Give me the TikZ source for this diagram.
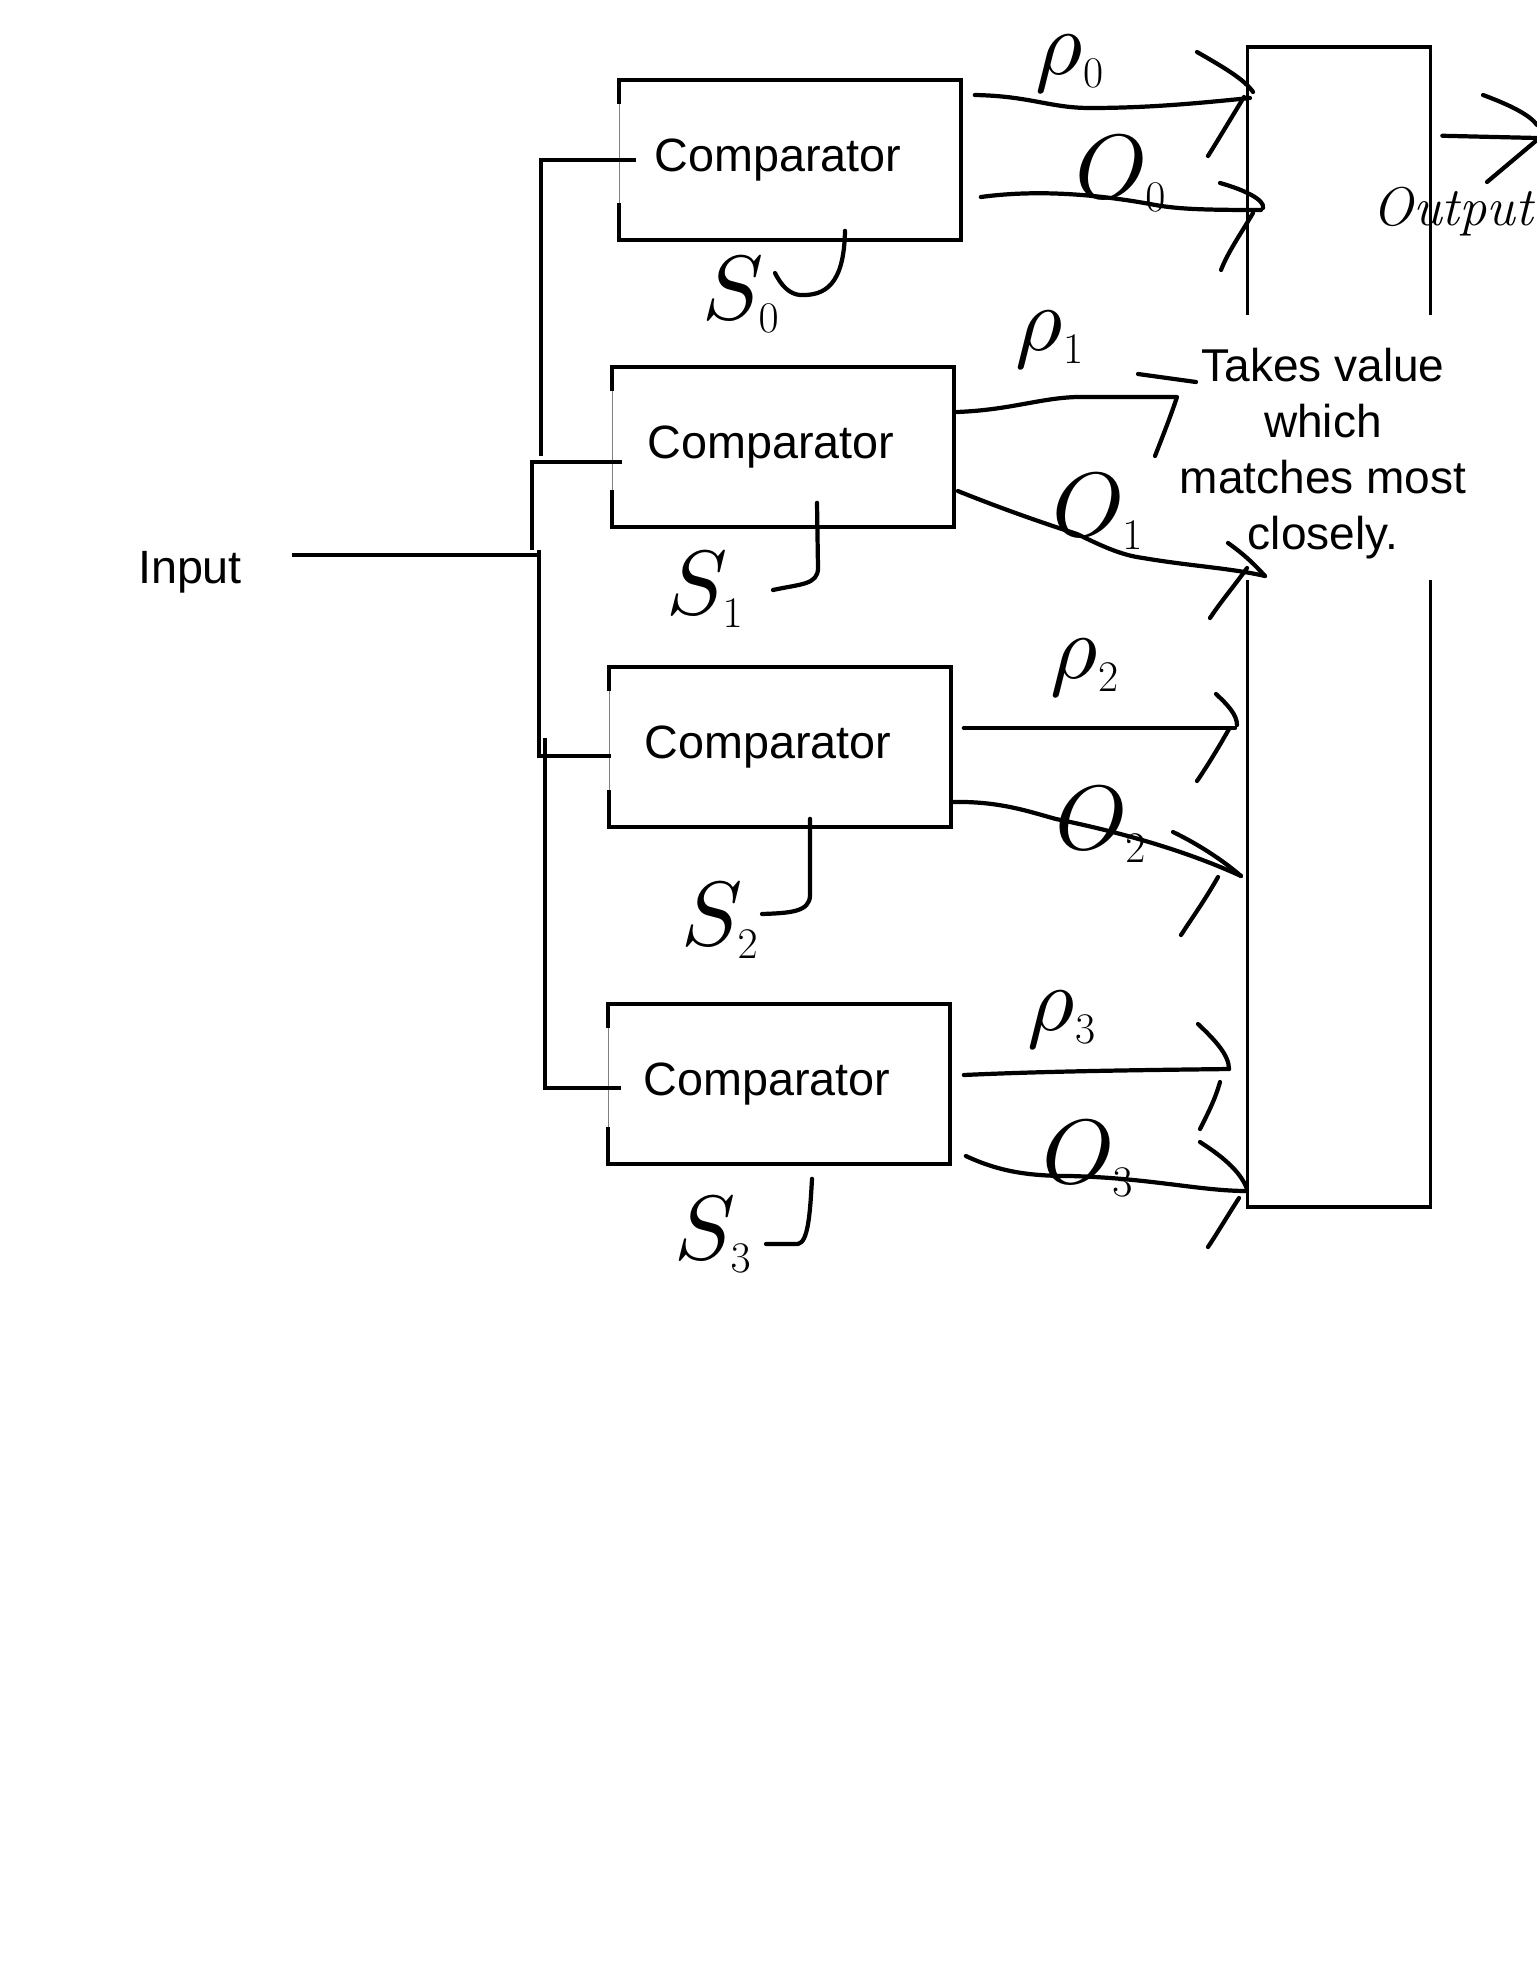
\documentclass[tikz,border=0pt]{standalone}
\usepackage{fontspec}
\usepackage{tikz}
\usetikzlibrary{calc}
\newfontfamily\helv{Liberation Sans}
\DeclareFontShape{OML}{cmm}{m}{it}{<->cmmi10}{}
\tikzset{
	cmp/.style={rectangle, inner sep=0pt, minimum width=6.82cm, minimum height=3.18cm, font=\helv\fontsize{26.6}{31}\selectfont},
	wire/.style={line width=2pt},
	hand/.style={line width=2.4pt, line cap=round, line join=round},
	lbl/.style={inner sep=0pt, font=\fontsize{52}{60}\selectfont}
}

\begin{document}
\begin{tikzpicture}[x=0.02cm, y=-0.02cm]
    \useasboundingbox (0,0) rectangle (1537,1961);

    \node[cmp] (cmp0) at (790,160) {\hspace*{-0.48cm}Comparator};
    \node[cmp] (cmp1) at (783,447) {\hspace*{-0.48cm}Comparator};
    \node[cmp] (cmp2) at (780,747) {\hspace*{-0.48cm}Comparator};
    \node[cmp] (cmp3) at (779,1084) {\hspace*{-0.48cm}Comparator};
    \node[font=\helv\fontsize{26.6}{31}\selectfont] (input) at (190,572) {Input};
    \node[rectangle, inner sep=0pt, minimum width=3.64cm, minimum height=23.2cm] (sel) at (1339,627) {};
    \node[align=center, font=\helv\fontsize{26.2}{31.9}\selectfont] (note) at (1323,454) {Takes value\\which\\matches most\\closely.};
    \node[font=\itshape\fontsize{31}{36}\selectfont, anchor=west] (outlbl) at (1366,212) {Output};

    \foreach \b in {cmp0,cmp1,cmp2,cmp3} {
        \draw[wire] ([yshift=-0.48cm]\b.north west) -- (\b.north west) -- (\b.north east) -- (\b.south east) -- (\b.south west) -- ([yshift=0.74cm]\b.south west);
        \draw[gray, line width=0.4pt] ([yshift=-0.48cm]\b.north west) -- ([yshift=0.74cm]\b.south west);
    }
    \draw[wire] ([yshift=-5.36cm]sel.north west) -- (sel.north west) -- (sel.north east) -- ([yshift=-5.36cm]sel.north east);
    \draw[wire] ([yshift=12.54cm]sel.south west) -- (sel.south west) -- (sel.south east) -- ([yshift=12.54cm]sel.south east);

    % input bus
    \coordinate (j0) at (541,456);
    \coordinate (j1) at (532,550);
    \coordinate (inB) at (537,555);
    \coordinate (j2) at (539,550);
    \coordinate (j3) at (545,738);
    \draw[wire] ($(cmp0.west)+(17,0)$) -| (j0);
    \draw[wire] ($(cmp1.west)+(10,15)$) -| (j1);
    \draw[wire] ($(input.east)+(44,-17)$) -- (inB);
    \draw[wire] ($(cmp2.west)+(2,9)$) -| (j2);
    \draw[wire] ($(cmp3.west)+(13,4)$) -| (j3);

    % labels
    \node[lbl] (rho0) at (1070,64) {$\rho_0$};
    \node[lbl] (o0lbl) at (1121,174) {$O_0$};
    \node[lbl] (s0lbl) at (741,295) {$S_0$};
    \node[lbl] (rho1) at (1050,340) {$\rho_1$};
    \node[lbl] (o1lbl) at (1098,512) {$O_1$};
    \node[lbl] (s1lbl) at (705,590) {$S_1$};
    \node[lbl] (rho2) at (1085,668) {$\rho_2$};
    \node[lbl] (o2lbl) at (1101,825) {$O_2$};
    \node[lbl] (s2lbl) at (720,921) {$S_2$};
    \node[lbl] (rho3) at (1062,1020) {$\rho_3$};
    \node[lbl] (o3lbl) at (1088,1159) {$O_3$};
    \node[lbl] (s3lbl) at (713,1235) {$S_3$};

    % outputs into the selector
    \coordinate (p0tip) at (1250,98);
    \coordinate (o0tip) at (1261,210);
    \coordinate (p1end) at (1177,397);
    \coordinate (o1tip) at (1265,576);
    \coordinate (p2tip) at (1235,728);
    \coordinate (o2tip) at (1241,876);
    \coordinate (p3tip) at (1229,1069);
    \coordinate (o3tip) at (1247,1191);
    \coordinate (outtip) at (1537,138);

    \draw[hand] ($(cmp0.east)+(14,-65)$) .. controls (1030,96) and (1050,108) .. (1090,108) .. controls (1150,108) and (1200,103) .. (p0tip);
    \draw[hand] (1197,52) .. controls (1225,68) and (1245,80) .. (1253,92);
    \draw[hand] (1244,97) .. controls (1230,120) and (1218,140) .. (1208,156);
    \draw[hand] ($(cmp0.east)+(20,37)$) .. controls (1040,189) and (1100,195) .. (1150,204) .. controls (1175,209) and (1200,210) .. (o0tip);
    \draw[hand] (1220,183) .. controls (1245,190) and (1265,200) .. (1263,208);
    \draw[hand] (1253,213) .. controls (1240,235) and (1228,252) .. (1221,270);

    \draw[hand] ($(cmp1.east)+(3,-35)$) .. controls (1010,410) and (1040,398) .. (1077,397) -- (p1end) .. controls (1170,418) and (1162,438) .. (1155,456);
    \draw[hand] (1138,374) -- (1196,382);
    \draw[hand] ($(cmp1.east)+(4,44)$) .. controls (1000,508) and (1040,522) .. (1077,534) .. controls (1100,545) and (1120,555) .. (1143,558) .. controls (1190,566) and (1230,568) .. (o1tip);
    \draw[hand] (1228,543) .. controls (1245,555) and (1255,565) .. (1265,576);
    \draw[hand] (1247,568) .. controls (1235,585) and (1222,600) .. (1210,618);

    \draw[hand] ($(cmp2.east)+(13,-19)$) -- (p2tip);
    \draw[hand] (1216,694) .. controls (1228,705) and (1237,715) .. (1237,725);
    \draw[hand] (1229,729) .. controls (1220,745) and (1208,765) .. (1197,781);
    \draw[hand] ($(cmp2.east)+(2,55)$) .. controls (1000,801) and (1030,812) .. (1056,819) .. controls (1110,830) and (1180,848) .. (o2tip);
    \draw[hand] (1173,832) .. controls (1200,845) and (1225,862) .. (1241,876);
    \draw[hand] (1218,877) .. controls (1205,900) and (1192,918) .. (1181,935);

    \draw[hand] ($(cmp3.east)+(14,-9)$) .. controls (1050,1071) and (1150,1070) .. (p3tip);
    \draw[hand] (1198,1024) .. controls (1215,1040) and (1229,1055) .. (1229,1069);
    \draw[hand] (1220,1082) .. controls (1215,1100) and (1207,1115) .. (1200,1129);
    \draw[hand] ($(cmp3.east)+(16,72)$) .. controls (1000,1172) and (1030,1176) .. (1070,1176) .. controls (1150,1178) and (1200,1191) .. (o3tip);
    \draw[hand] (1200,1142) .. controls (1220,1155) and (1240,1170) .. (1247,1189);
    \draw[hand] (1239,1198) .. controls (1228,1215) and (1218,1232) .. (1208,1247);

    \draw[hand] ($(sel.north east)+(12,89)$) -- (outtip);
    \draw[hand] (1483,95) .. controls (1510,105) and (1530,115) .. (1537,125);
    \draw[hand] (1537,140) -- (1487,182);

    % S inputs
    \draw[hand] ($(cmp0.south)+(55,-9)$) .. controls (844,285) and (825,296) .. (800,295) .. controls (790,294) and (782,287) .. (775,273);
    \draw[hand] ($(cmp1.south)+(34,-24)$) -- (818,568) .. controls (818,585) and (800,584) .. (773,590);
    \draw[hand] ($(cmp2.south)+(30,-8)$) -- (810,895) .. controls (810,912) and (790,913) .. (762,914);
    \draw[hand] ($(cmp3.south)+(33,15)$) .. controls (810,1215) and (808,1242) .. (798,1244) -- (766,1244);
\end{tikzpicture}
\end{document}
